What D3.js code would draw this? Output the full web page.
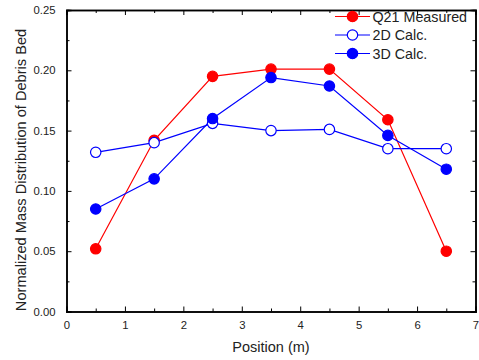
<!DOCTYPE html>
<html>
<head>
<meta charset="utf-8">
<script src="https://cdn.jsdelivr.net/npm/d3@7"></script>
<style>
  body { margin: 0; background: #fff; }
  svg text { font-family: "Liberation Sans", Arial, sans-serif; fill: #222; }
</style>
</head>
<body>
<div id="chart"></div>
<script>
// data
var positions = [0.5, 1.5, 2.5, 3.5, 4.5, 5.5, 6.5];
var measured = [0.052, 0.142, 0.195, 0.201, 0.201, 0.159, 0.050];
var calc2D = [0.132, 0.140, 0.156, 0.150, 0.151, 0.135, 0.135];
var calc3D = [0.085, 0.110, 0.160, 0.194, 0.187, 0.146, 0.118];
var xTicks = [0, 1, 2, 3, 4, 5, 6, 7];
var yTicks = [0, 0.05, 0.10, 0.15, 0.20, 0.25];

var series = [
  {name: "Q21 Measured", values: measured, color: "#ff0000", filled: true},
  {name: "2D Calc.", values: calc2D, color: "#0000ff", filled: false},
  {name: "3D Calc.", values: calc3D, color: "#0000ff", filled: true}
];

var margin = {top: 10, right: 3, bottom: 48, left: 66.5},
    width = 479 - margin.left - margin.right,
    height = 360 - margin.top - margin.bottom;

var svg = d3.select("#chart").append("svg")
  .attr("width", 479)
  .attr("height", 360);

var g = svg.append("g")
  .attr("transform", "translate(" + margin.left + "," + margin.top + ")");

var x = d3.scaleLinear().domain([0, 7]).range([0, width - 0.5]);
var y = d3.scaleLinear().domain([0, 0.25]).range([height - 0.5, 0]);

var minorX = d3.range(0.5, 7, 1);
var minorY = d3.range(0.025, 0.25, 0.05);

// bottom axis
g.append("g")
  .attr("transform", "translate(0," + y(0) + ")")
  .call(d3.axisBottom(x).tickValues(xTicks).tickSize(-5).tickPadding(9).tickFormat(d3.format("d")));
g.append("g")
  .attr("transform", "translate(0," + y(0) + ")")
  .call(d3.axisBottom(x).tickValues(minorX).tickSize(-3).tickFormat(""));

// left axis
g.append("g")
  .call(d3.axisLeft(y).tickValues(yTicks).tickSize(-5).tickPadding(11).tickFormat(d3.format(".2f")));
g.append("g")
  .call(d3.axisLeft(y).tickValues(minorY).tickSize(-3).tickFormat(""));

// top axis
g.append("g")
  .call(d3.axisTop(x).tickValues(xTicks).tickSize(-5).tickFormat(""));
g.append("g")
  .call(d3.axisTop(x).tickValues(minorX).tickSize(-3).tickFormat(""));

// right axis
g.append("g")
  .attr("transform", "translate(" + x(7) + ",0)")
  .call(d3.axisRight(y).tickValues(yTicks).tickSize(-5).tickFormat(""));
g.append("g")
  .attr("transform", "translate(" + x(7) + ",0)")
  .call(d3.axisRight(y).tickValues(minorY).tickSize(-3).tickFormat(""));

g.selectAll(".domain").attr("stroke", "#000").attr("stroke-width", 1.5);
g.selectAll(".tick line").attr("stroke", "#000").attr("stroke-width", 1);
g.selectAll(".tick text").style("font-size", "11.3px").attr("fill", "#222");

// lines and markers
var line = d3.line()
  .x(function(d, i) { return x(positions[i]); })
  .y(function(d) { return y(d); });

series.forEach(function(s) {
  g.append("path")
    .datum(s.values)
    .attr("fill", "none")
    .attr("stroke", s.color)
    .attr("stroke-width", 1.2)
    .attr("d", line);
});

series.forEach(function(s) {
  g.selectAll(null)
    .data(s.values)
    .enter()
    .append("circle")
    .attr("cx", function(d, i) { return x(positions[i]); })
    .attr("cy", function(d) { return y(d); })
    .attr("r", 5.2)
    .attr("fill", s.filled ? s.color : "#fff")
    .attr("stroke", s.color)
    .attr("stroke-width", 1.2);
});

// legend
var legend = g.append("g")
  .attr("transform", "translate(" + (335 - margin.left) + "," + (16.5 - margin.top) + ")");

series.forEach(function(s, i) {
  var row = legend.append("g").attr("transform", "translate(0," + (i * 18.5) + ")");
  row.append("line")
    .attr("x1", 0).attr("x2", 35)
    .attr("stroke", s.color).attr("stroke-width", 1.2);
  row.append("circle")
    .attr("cx", 17.5).attr("r", 5.2)
    .attr("fill", s.filled ? s.color : "#fff")
    .attr("stroke", s.color).attr("stroke-width", 1.2);
  row.append("text")
    .attr("x", 37.5).attr("dy", "0.36em")
    .style("font-size", "14.3px")
    .text(s.name);
});

// axis titles
svg.append("text")
  .attr("x", margin.left + x(3.5))
  .attr("y", 352)
  .attr("text-anchor", "middle")
  .style("font-size", "14.5px")
  .text("Position (m)");

svg.append("text")
  .attr("transform", "translate(21,170) rotate(-90)")
  .attr("text-anchor", "middle")
  .attr("dy", "0.35em")
  .style("font-size", "14.6px")
  .text("Normalized Mass Distribution of Debris Bed");
</script>
</body>
</html>
